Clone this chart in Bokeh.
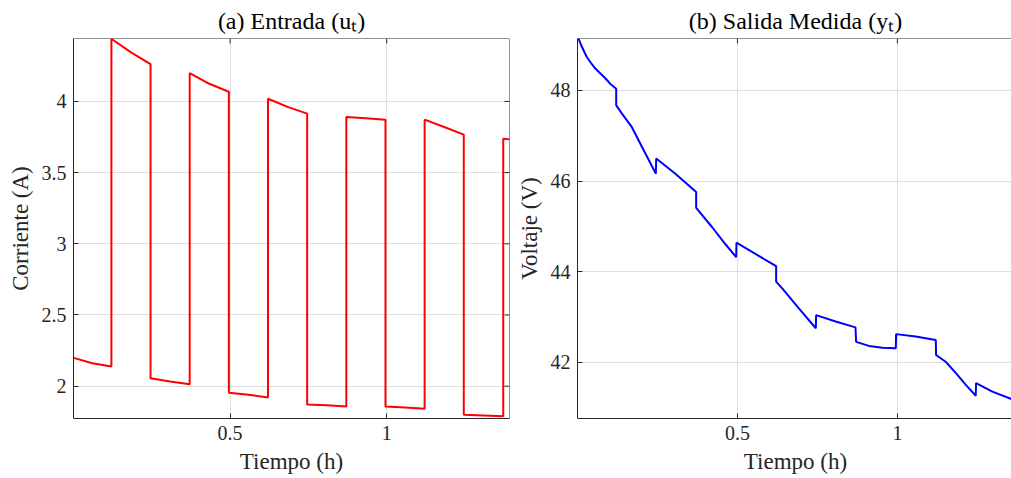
from bokeh.plotting import figure
from bokeh.layouts import row
from bokeh.models import Range1d, FixedTicker, NumeralTickFormatter, Span
from bokeh.embed import file_html
from bokeh.resources import INLINE

# ---- data -----------------------------------------------------------------
# switching instants of the current profile (h)
t_switch = [0.121, 0.246, 0.371, 0.496, 0.621, 0.746, 0.871, 0.996, 1.121, 1.246, 1.372]
t_end = 1.392

# applied current per interval: value at start, middle and end of the interval (A)
i_start = [2.199, 4.440, 2.056, 4.199, 1.954, 4.019, 1.872, 3.890, 1.858, 3.872, 1.800, 3.738]
i_mid   = [2.161, 4.345, 2.033, 4.124, 1.940, 3.962, 1.866, 3.881, 1.850, 3.820, 1.794, 3.736]
i_end   = [2.138, 4.262, 2.014, 4.068, 1.921, 3.914, 1.858, 3.872, 1.842, 3.767, 1.788, 3.735]

# measured terminal voltage (h, V)
t_volt = [0.000, 0.003, 0.014, 0.029, 0.045, 0.055, 0.071, 0.087, 0.102, 0.121,
          0.121, 0.139, 0.170, 0.207, 0.245, 0.246, 0.306, 0.371, 0.371, 0.421,
          0.462, 0.496, 0.497, 0.621, 0.621, 0.640, 0.692, 0.745, 0.746, 0.807,
          0.869, 0.871, 0.911, 0.953, 0.995, 0.996, 1.057, 1.120, 1.121, 1.151,
          1.183, 1.214, 1.245, 1.246, 1.297, 1.363, 1.372]
volt = [49.17, 49.15, 48.96, 48.74, 48.58, 48.49, 48.38, 48.27, 48.15, 48.04,
        47.67, 47.49, 47.19, 46.68, 46.16, 46.50, 46.16, 45.76, 45.41, 44.98,
        44.61, 44.32, 44.64, 44.12, 43.78, 43.63, 43.19, 42.75, 43.04, 42.90,
        42.77, 42.45, 42.36, 42.32, 42.31, 42.62, 42.57, 42.49, 42.16, 42.01,
        41.76, 41.50, 41.26, 41.54, 41.35, 41.17, 41.15]

x_ticks = [0.5, 1.0]
i_ticks = [2.0, 2.5, 3.0, 3.5, 4.0]
v_ticks = [42, 44, 46, 48]

# ---- build the current trace from the interval values ----------------------
bounds = [0.0] + t_switch + [t_end]
t_cur, cur = [], []
for k in range(len(i_start)):
    a, b = bounds[k], bounds[k + 1]
    t_cur += [a, 0.5 * (a + b), b]
    cur += [i_start[k], i_mid[k], i_end[k]]

FONT = "Liberation Serif"
AX = "#262626"
GRID = "#dfdfdf"
TICK_PX = 5
FRAME_H = 380


def style(p, yticks, yfmt, frame_w, right_side=True):
    p.xaxis.ticker = FixedTicker(ticks=x_ticks)
    p.xaxis.formatter = NumeralTickFormatter(format="0.[0]")
    p.yaxis.ticker = FixedTicker(ticks=yticks)
    p.yaxis.formatter = NumeralTickFormatter(format=yfmt)
    for ax in p.axis:
        ax.axis_line_color = AX
        ax.axis_line_width = 1
        ax.major_tick_in = TICK_PX
        ax.major_tick_out = 0
        ax.major_tick_line_color = AX
        ax.minor_tick_line_color = None
        ax.major_label_text_font = FONT
        ax.major_label_text_font_size = "20px"
        ax.major_label_text_color = AX
        ax.axis_label_text_font = FONT
        ax.axis_label_text_font_size = "23px"
        ax.axis_label_text_font_style = "normal"
        ax.axis_label_text_color = AX
        ax.axis_label_standoff = 6
        ax.major_label_standoff = 7
    p.xgrid.ticker = FixedTicker(ticks=x_ticks)
    p.ygrid.ticker = FixedTicker(ticks=yticks)
    p.grid.grid_line_color = GRID
    p.grid.grid_line_width = 1
    p.outline_line_color = None

    # box: top edge (and right edge) with inward ticks
    x0, x1 = p.x_range.start, p.x_range.end
    y0, y1 = p.y_range.start, p.y_range.end
    dy = (y1 - y0) / FRAME_H * TICK_PX
    dx = (x1 - x0) / frame_w * TICK_PX
    p.add_layout(Span(location=y1, dimension="width", line_color=AX, line_width=1))
    p.segment(x0=x_ticks, y0=[y1] * len(x_ticks), x1=x_ticks, y1=[y1 - dy] * len(x_ticks),
              line_color=AX, line_width=1)
    if right_side:
        p.add_layout(Span(location=x1, dimension="height", line_color=AX, line_width=1))
        p.segment(x0=[x1] * len(yticks), y0=yticks, x1=[x1 - dx] * len(yticks), y1=yticks,
                  line_color=AX, line_width=1)

    p.title.text_font = FONT
    p.title.text_font_size = "24px"
    p.title.text_font_style = "normal"
    p.title.text_color = "#000000"
    p.title.align = "center"


# ---- (a) input current ----------------------------------------------------
p1 = figure(frame_width=436, frame_height=FRAME_H,
            x_range=Range1d(0.0, t_end), y_range=Range1d(1.773, 4.442),
            output_backend="svg", toolbar_location=None,
            min_border_left=73, min_border_right=4,
            min_border_top=38, min_border_bottom=60,
            title="(a) Entrada (uₜ)",
            x_axis_label="Tiempo (h)", y_axis_label="Corriente (A)")
p1.line(t_cur, cur, line_color="#ff0000", line_width=2)
style(p1, i_ticks, "0.[0]", 436)

# ---- (b) measured voltage -------------------------------------------------
p2 = figure(frame_width=436, frame_height=FRAME_H,
            x_range=Range1d(0.0, 1.363), y_range=Range1d(40.757, 49.148),
            output_backend="svg", toolbar_location=None,
            min_border_left=59, min_border_right=0,
            min_border_top=38, min_border_bottom=60,
            title="(b) Salida Medida (yₜ)",
            x_axis_label="Tiempo (h)", y_axis_label="Voltaje (V)")
p2.line(t_volt, volt, line_color="#0000ff", line_width=2)
style(p2, v_ticks, "0", 436, right_side=False)

layout = row(p1, p2, spacing=0)
open("out.html", "w").write(file_html(layout, INLINE))
